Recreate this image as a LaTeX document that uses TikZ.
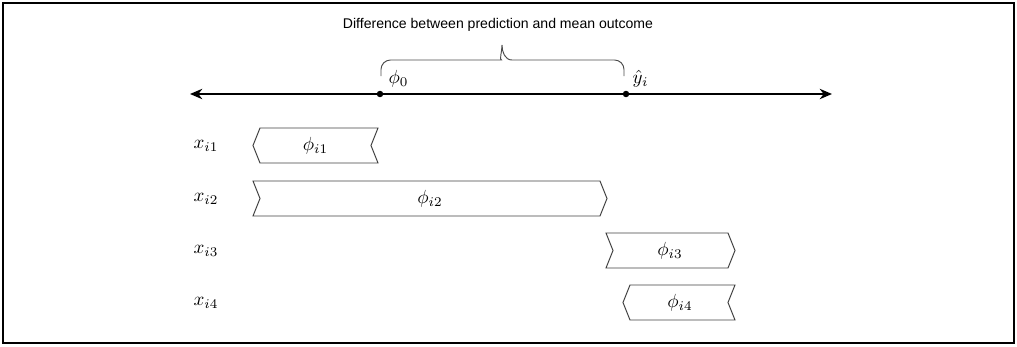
\documentclass[tikz,border=0pt]{standalone}
\usepackage{fontspec}
\newfontfamily\labelfont{Liberation Sans}
\usetikzlibrary{arrows.meta,positioning}

\begin{document}
\begin{tikzpicture}[
    x=0.0185cm, y=0.0185cm,
    >={Stealth[length=6.5pt, width=5.5pt]},
    axisLine/.style={<->, line width=0.8pt},
    valDot/.style={circle, fill=black, inner sep=0pt, minimum size=3.4pt},
    contribBar/.style={line width=0.5pt, draw=black!75},
    braceLine/.style={line width=0.5pt, draw=black!70}
]

    \useasboundingbox (0,0) rectangle (1017,-346);
    \draw[line width=0.9pt] (3,-3) rectangle (1014,-343);

    % ---------------- value axis ----------------
    \coordinate (axisL) at (190,-94);
    \coordinate (axisR) at (832,-94);
    \draw[axisLine] (axisL) -- (axisR);

    \node[valDot] (phiZeroDot) at (380,-94) {};
    \node[valDot] (yHatDot) at (626,-94) {};
    \node[above right, xshift=1pt] (phiZero) at (phiZeroDot) {$\phi_0$};
    \node[above right] (yHat) at (yHatDot) {$\hat{y}_i$};

    % ---------------- brace ----------------
    \coordinate (braceL) at (381,-76);
    \coordinate (braceR) at (624,-76);
    \coordinate (braceTip) at (502,-45);
    \draw[braceLine] (braceL) [rounded corners=5pt] |- (492,-60) [sharp corners]
        to[out=0, in=-90] (braceTip) to[out=-90, in=180] (512,-60)
        [rounded corners=5pt] -| (braceR);
    \node[font=\labelfont\fontsize{7.4}{9}\selectfont] (diffLabel) at (498,-25)
        {Difference between prediction and mean outcome};

    % ---------------- row positions ----------------
    \def\yOne{-145.5}
    \def\yTwo{-198.5}
    \def\yThree{-250.5}
    \def\yFour{-302.5}

    \node (xOne) at (206,\yOne) {$x_{i1}$};
    \node (xTwo) at (206,\yTwo) {$x_{i2}$};
    \node (xThree) at (206,\yThree) {$x_{i3}$};
    \node (xFour) at (206,\yFour) {$x_{i4}$};

    % ---------------- contributions ----------------
    \draw[contribBar] (253,\yOne) -- (260,\yOne+17.5) -- (378,\yOne+17.5)
        -- (371,\yOne) -- (378,\yOne-17.5) -- (260,\yOne-17.5) -- cycle;
    \node (phiOne) at (315.5,\yOne) {$\phi_{i1}$};

    \draw[contribBar] (253,\yTwo+17.5) -- (600,\yTwo+17.5) -- (607,\yTwo)
        -- (600,\yTwo-17.5) -- (253,\yTwo-17.5) -- (260,\yTwo) -- cycle;
    \node (phiTwo) at (430,\yTwo) {$\phi_{i2}$};

    \draw[contribBar] (606,\yThree+17.5) -- (728,\yThree+17.5) -- (735,\yThree)
        -- (728,\yThree-17.5) -- (606,\yThree-17.5) -- (613,\yThree) -- cycle;
    \node (phiThree) at (670,\yThree) {$\phi_{i3}$};

    \draw[contribBar] (623,\yFour) -- (630,\yFour+17.5) -- (735,\yFour+17.5)
        -- (728,\yFour) -- (735,\yFour-17.5) -- (630,\yFour-17.5) -- cycle;
    \node (phiFour) at (680,\yFour) {$\phi_{i4}$};

\end{tikzpicture}
\end{document}
